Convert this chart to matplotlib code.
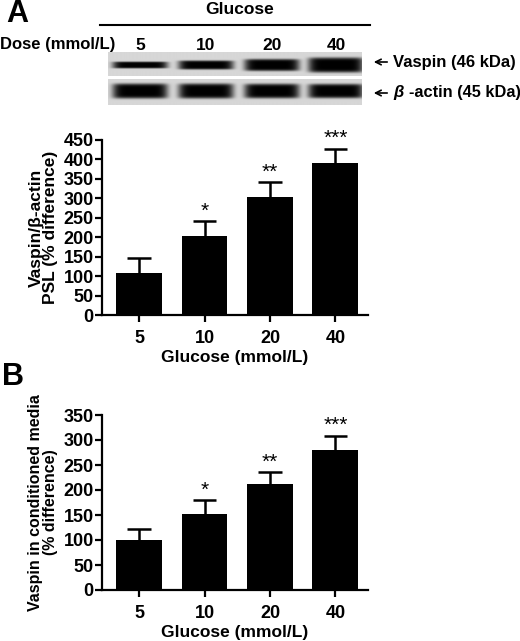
import numpy as np
import matplotlib
matplotlib.use('Agg')
import matplotlib.pyplot as plt

plt.rcParams['font.family'] = ['Liberation Sans', 'DejaVu Sans']
plt.rcParams['font.weight'] = 'bold'

doses = ['5', '10', '20', '40']
psl_mean = [108, 203, 304, 392]
psl_err = [38, 39, 37, 36]
media_mean = [100, 153, 213, 281]
media_err = [23, 27, 23, 28]
stars = ['', '*', '**', '***']
vaspin_band = [0.45, 0.6, 0.8, 1.0]   # relative band thickness
actin_band = [1.0, 1.0, 0.97, 0.95]

W, H = 520, 641
fig = plt.figure(figsize=(W / 100, H / 100), dpi=100)

# overlay in pixel coords for the blot and labels
ov = fig.add_axes([0, 0, 1, 1])
ov.set_xlim(0, W)
ov.set_ylim(H, 0)
ov.axis('off')

ov.text(6, 14, 'A', fontsize=22, fontweight='bold', va='center', ha='left')
ov.text(2, 377, 'B', fontsize=22, fontweight='bold', va='center', ha='left')
ov.text(240, 10, 'Glucose', fontsize=12.5, ha='center', va='center')
ov.plot([100, 370], [25, 25], color='black', lw=1.5)
ov.text(0, 45, 'Dose (mmol/L)', fontsize=12, ha='left', va='center')
lane_x = [140, 206, 272, 336]
for x, d in zip(lane_x, doses):
    ov.text(x, 45, d, fontsize=12.5, ha='center', va='center')


def blot(y0, y1, yc, thick):
    nx, ny = 504, int(y1 - y0) * 6
    xs = np.linspace(108, 362, nx)
    ys = np.linspace(y0, y1, ny)
    X, Y = np.meshgrid(xs, ys)
    img = np.full(X.shape, 0.84)
    for cx, t in zip(lane_x, thick):
        half_h = 7.5 * t
        px = np.exp(-(np.abs(X - cx) / 27.5) ** 8)
        py = np.exp(-(np.abs(Y - yc) / half_h) ** 6)
        img -= 0.84 * px * py
    ov.imshow(np.clip(img, 0, 1), cmap='gray', vmin=0, vmax=1,
              extent=[108, 362, y1, y0], aspect='auto', interpolation='bilinear')


blot(52, 76, 65, vaspin_band)
blot(79, 105, 91, actin_band)
ov.annotate('', xy=(371, 62), xytext=(390, 62),
            arrowprops=dict(arrowstyle='->', lw=1.2, color='black'))
ov.text(393, 62, 'Vaspin (46 kDa)', fontsize=12, ha='left', va='center')
ov.annotate('', xy=(371, 93), xytext=(390, 93),
            arrowprops=dict(arrowstyle='->', lw=1.2, color='black'))
ov.text(393, 93, 'β', fontsize=12, ha='left', va='center', style='italic')
ov.text(409, 93, '-actin (45 kDa)', fontsize=11.8, ha='left', va='center')


def bar_panel(rect_px, means, errs, ymax, ystep, ylabel, ylsize):
    left, top, right, bottom = rect_px
    ax = fig.add_axes([left / W, 1 - bottom / H, (right - left) / W, (bottom - top) / H])
    x = np.arange(len(means))
    tops = np.array(means) + np.array(errs)
    ax.vlines(x, means, tops, color='black', lw=1.8)
    ax.hlines(tops, x - 0.18, x + 0.18, color='black', lw=1.8)
    ax.bar(x, means, width=0.7, color='black', zorder=3)
    for xi, t, s in zip(x, tops, stars):
        if s:
            ax.text(xi, t + 1, s, ha='center', va='bottom', fontsize=15,
                    fontweight='normal')
    ax.set_xlim(-0.57, 3.5)
    ax.set_ylim(0, ymax)
    ax.set_yticks(np.arange(0, ymax + 1, ystep))
    ax.set_xticks(x)
    ax.set_xticklabels(doses)
    for sp in ['top', 'right']:
        ax.spines[sp].set_visible(False)
    for sp in ['left', 'bottom']:
        ax.spines[sp].set_linewidth(1.6)
    ax.tick_params(axis='y', direction='out', length=5, width=1.6, labelsize=13, pad=1)
    ax.tick_params(axis='x', direction='out', length=5, width=1.6, labelsize=13, pad=6)
    ax.set_xlabel('Glucose (mmol/L)', fontsize=12.5, fontweight='bold', labelpad=2)
    ax.set_ylabel(ylabel, fontsize=ylsize, fontweight='bold', labelpad=4, linespacing=0.95)
    return ax


bar_panel((102, 140, 368, 315), psl_mean, psl_err, 450, 50,
          'Vaspin/β-actin\nPSL (% difference)', 12.5)
bar_panel((102, 415, 368, 590), media_mean, media_err, 350, 50,
          'Vaspin in conditioned media\n(% difference)', 11.5)

fig.savefig('out.png', dpi=100)
